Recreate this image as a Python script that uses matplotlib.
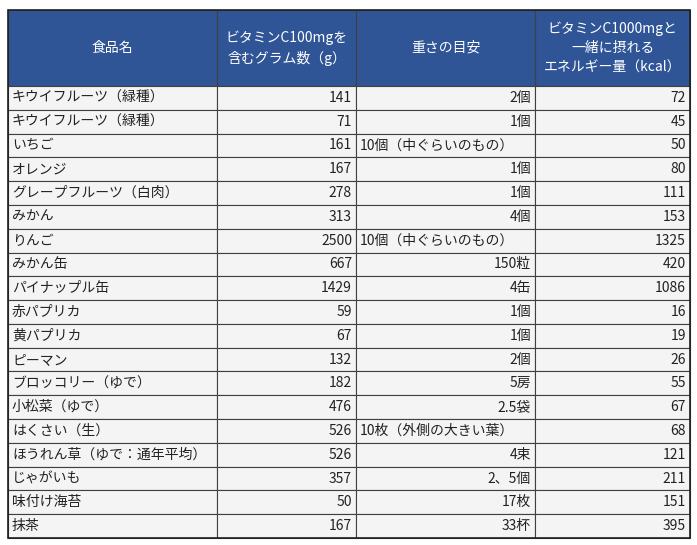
import matplotlib.pyplot as plt
from matplotlib.patches import Rectangle

plt.rcParams['font.family'] = 'Noto Sans CJK JP'

headers = ["食品名", "ビタミンC100mgを\n含むグラム数（g）", "重さの目安",
           "ビタミンC1000mgと\n一緒に摂れる\nエネルギー量（kcal）"]
foods = ["キウイフルーツ（緑種）", "キウイフルーツ（緑種）", "いちご", "オレンジ",
         "グレープフルーツ（白肉）", "みかん", "りんご", "みかん缶", "パイナップル缶",
         "赤パプリカ", "黄パプリカ", "ピーマン", "ブロッコリー（ゆで）", "小松菜（ゆで）",
         "はくさい（生）", "ほうれん草（ゆで：通年平均）", "じゃがいも", "味付け海苔", "抹茶"]
grams = [141, 71, 161, 167, 278, 313, 2500, 667, 1429, 59, 67, 132, 182, 476, 526, 526, 357, 50, 167]
amounts = ["2個", "1個", "10個（中ぐらいのもの）", "1個", "1個", "4個", "10個（中ぐらいのもの）",
           "150粒", "4缶", "1個", "1個", "2個", "5房", "2.5袋", "10枚（外側の大きい葉）",
           "4束", "2、5個", "17枚", "33杯"]
kcal = [72, 45, 50, 80, 111, 153, 1325, 420, 1086, 16, 19, 26, 55, 67, 68, 121, 211, 151, 395]

W, H = 697, 545
fig = plt.figure(figsize=(W / 100, H / 100), dpi=100)
ax = fig.add_axes([0, 0, 1, 1])
ax.set_xlim(0, W)
ax.set_ylim(H, 0)
ax.axis('off')

cols = [8, 217, 356, 535, 690]
top, head_bot, bottom = 10, 86, 538
rh = (bottom - head_bot) / len(foods)
line = '#404040'

for i, h in enumerate(headers):
    ax.add_patch(Rectangle((cols[i], top), cols[i + 1] - cols[i], head_bot - top,
                           facecolor='#2F5597', edgecolor=line, lw=0.8))
    ax.text((cols[i] + cols[i + 1]) / 2, (top + head_bot) / 2, h, color='white',
            fontsize=10, ha='center', va='center', linespacing=1.5)

for r in range(len(foods)):
    y0 = head_bot + r * rh
    cells = [foods[r], str(grams[r]), amounts[r], str(kcal[r])]
    for c, txt in enumerate(cells):
        ax.add_patch(Rectangle((cols[c], y0), cols[c + 1] - cols[c], rh,
                               facecolor='#F4F4F4', edgecolor=line, lw=0.8))
        left = c == 0 or (c == 2 and '（' in txt)
        x = cols[c] + 4 if left else cols[c + 1] - 4
        ax.text(x, y0 + rh / 2, txt, fontsize=10, color='#222222',
                ha='left' if left else 'right', va='center')

ax.add_patch(Rectangle((cols[0], top), cols[-1] - cols[0], bottom - top,
                       fill=False, edgecolor='#202020', lw=1.2))

fig.savefig('out.png', dpi=100, facecolor='white')
